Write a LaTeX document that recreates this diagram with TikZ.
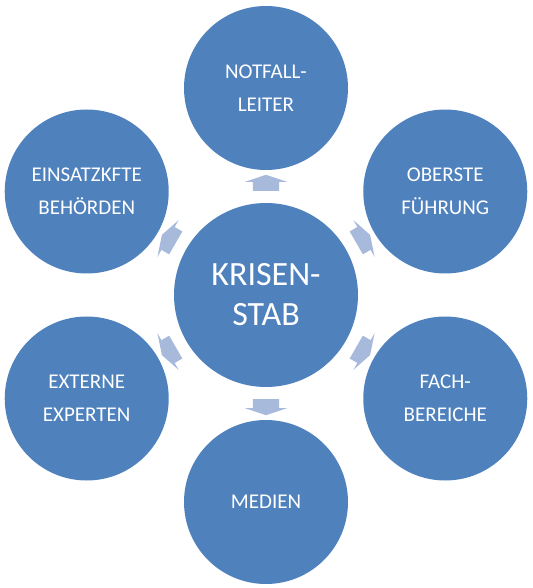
\documentclass[tikz,border=0pt]{standalone}
\usepackage{fontspec}
\setmainfont{Carlito}
\usetikzlibrary{shapes.arrows}
\definecolor{stabblue}{HTML}{4F81BD}
\definecolor{pfeilblue}{HTML}{A7BADB}

\begin{document}
\begin{tikzpicture}[x=1pt,y=1pt,
		kreis/.style={circle,fill=stabblue,text=white,align=center,inner sep=0pt,minimum size=164pt,font=\fontsize{21}{33}\selectfont},
		pfeil/.style={single arrow,fill=pfeilblue,inner xsep=0pt,inner ysep=13pt,minimum height=16pt,single arrow head extend=8pt,single arrow tip angle=143}]
		\useasboundingbox (-266,-293) rectangle (266,295);
		\node[kreis,minimum size=184pt,font=\fontsize{34}{40}\selectfont] (stab) at (0,0) {KRISEN-\\STAB};
		\node[kreis] (leiter) at (90:207) {NOTFALL-\\LEITER};
		\node[kreis] (fuehrung) at (30:207) {OBERSTE\\FÜHRUNG};
		\node[kreis] (fach) at (-30:207) {FACH-\\BEREICHE};
		\node[kreis] (medien) at (-90:207) {MEDIEN};
		\node[kreis] (experten) at (-150:207) {EXTERNE\\EXPERTEN};
		\node[kreis] (behoerden) at (150:207) {EINSATZKFTE\\BEHÖRDEN};
		
		\foreach \w in {90,30,-30,-90,-150,150}
			\node[pfeil,rotate=\w] (p\w) at (\w:110) {};
	\end{tikzpicture}
\end{document}
